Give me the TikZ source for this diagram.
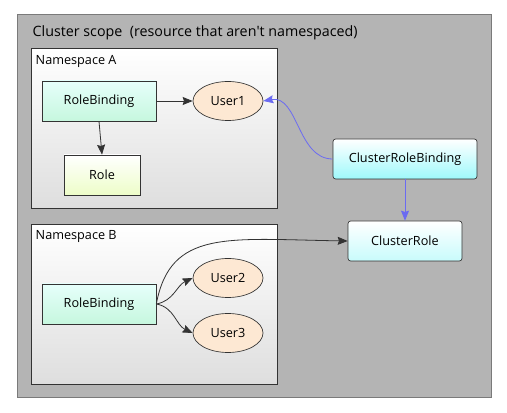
\documentclass[tikz,border=0pt]{standalone}
\usepackage{fontspec}
\setmainfont{Open Sans}
\usepackage{xcolor}
\definecolor{clustergray}{HTML}{B4B4B4}
\definecolor{clusterline}{HTML}{7A7A7A}
\definecolor{nsbottom}{HTML}{DEDEDE}
\definecolor{mintbottom}{HTML}{C6F7DE}
\definecolor{minttop}{HTML}{E6FFFB}
\definecolor{peach}{HTML}{FDE8D3}
\definecolor{limebottom}{HTML}{EDFDC8}
\definecolor{cyanbottom}{HTML}{9EF9FB}
\definecolor{cyanlight}{HTML}{C8FBFC}
\definecolor{linkblue}{HTML}{6B6BF2}
\definecolor{darkline}{HTML}{333333}
\usepackage{tikz}
\usetikzlibrary{shapes.geometric,arrows.meta,positioning}

\begin{document}
\begin{tikzpicture}[
  x=0.75pt, y=-0.75pt,
  font=\fontsize{9.5}{11}\selectfont,
  cluster/.style={
    rectangle, draw=clusterline, fill=clustergray,
    line width=0.5pt, anchor=north west,
    minimum width=355.5pt, minimum height=287.25pt
  },
  nsbox/.style={
    rectangle, draw=darkline, top color=white, bottom color=nsbottom,
    line width=0.5pt, anchor=north west,
    minimum width=184.5pt, minimum height=120pt
  },
  binding/.style={
    rectangle, draw=darkline, top color=minttop, bottom color=mintbottom,
    line width=0.5pt, minimum width=85.5pt, minimum height=30pt
  },
  rolebox/.style={
    rectangle, draw=darkline, top color=white, bottom color=limebottom,
    line width=0.5pt, minimum width=57pt, minimum height=30pt
  },
  user/.style={
    ellipse, draw=darkline, fill=peach,
    line width=0.5pt, minimum width=52.5pt, minimum height=29.25pt,
    inner sep=0pt
  },
  cbox/.style={
    rectangle, rounded corners=2pt, draw=darkline,
    top color=white, bottom color=#1,
    line width=0.5pt, minimum height=30pt
  },
  arr/.style={-{Stealth[length=7.5pt,width=6pt,inset=1pt]}, line width=0.6pt, color=darkline},
  bluearr/.style={-{Stealth[length=7.5pt,width=6pt,inset=1pt]}, line width=0.6pt, color=linkblue}
]
\useasboundingbox (0,0) rectangle (507,413);

% cluster scope
\node[cluster] (cluster) at (17,14) {};
\node[anchor=west, font=\fontsize{10.7}{13}\selectfont] (clustertitle) at (28,33)
  {Cluster scope\ \ (resource that aren\textquotesingle t namespaced)};

% namespace A
\node[nsbox] (nsA) at (31,48) {};
\node[anchor=west] (nsAtitle) at (31,61) {Namespace A};
\node[binding] (rbA) at (99,101) {RoleBinding};
\node[user] (user1) at (228,101) {User1};
\node[rolebox] (role) at (102,175) {Role};

% namespace B
\node[nsbox] (nsB) at (31,224) {};
\node[anchor=west] (nsBtitle) at (31,237) {Namespace B};
\node[binding] (rbB) at (99,304) {RoleBinding};
\node[user] (user2) at (228,278) {User2};
\node[user] (user3) at (228,333) {User3};

% cluster wide objects
\node[cbox=cyanbottom, minimum width=108pt] (crb) at (405,159) {ClusterRoleBinding};
\node[cbox=cyanlight, minimum width=85.5pt] (crole) at (405,241) {ClusterRole};

\draw[arr] (rbB.east) to[out=10,in=205] (user2.west);
\draw[arr] (rbB.east) to[out=-10,in=155] (user3.west);
\draw[arr] (rbB.east) .. controls +(14,-75) and +(-120,-2) .. (crole.west);
\draw[arr] (rbA) -- (user1);
\draw[arr] (rbA.south) -- (role.north);
\draw[bluearr] (crb.west) to[out=180,in=10] (user1.east);
\draw[bluearr] (crb.south) -- (crole.north);
\end{tikzpicture}
\end{document}
